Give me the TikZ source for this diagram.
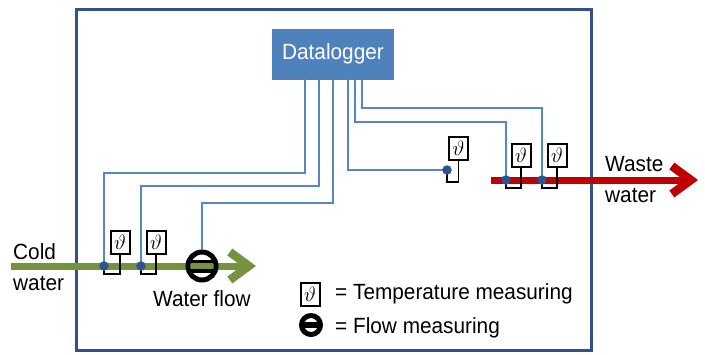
\documentclass[tikz,border=0pt]{standalone}
\usepackage{fontspec}
\setmainfont[FakeStretch=0.945]{Liberation Sans}
\usetikzlibrary{arrows.meta}
\definecolor{frameblue}{RGB}{47,82,143}
\definecolor{boxblue}{RGB}{79,129,189}
\definecolor{wireblue}{RGB}{85,135,200}
\definecolor{dotblue}{RGB}{45,85,140}
\definecolor{flowgreen}{RGB}{118,146,60}
\definecolor{wastered}{RGB}{192,0,0}
\tikzset{
 wire/.style={draw=wireblue,line width=1.5pt},
 pipegreen/.style={draw=flowgreen,line width=7pt,-{Straight Barb[length=19pt,width=28pt,line width=8.5pt]}},
 pipered/.style={draw=wastered,line width=7pt,-{Straight Barb[length=19pt,width=28pt,line width=8.5pt]}},
 sensor/.style={draw=black,fill=white,line width=2pt,minimum width=19pt,minimum height=23pt,inner sep=0pt,font=\fontsize{22}{22}\selectfont},
 sensorlead/.style={draw=black,line width=1.8pt},
 junction/.style={circle,fill=dotblue,inner sep=0pt,minimum size=9.5pt},
 labl/.style={inner sep=0pt,align=left,anchor=west,font=\fontsize{22}{31}\selectfont},
}
\newcommand{\thetasym}{$\vartheta$}
\begin{document}
\begin{tikzpicture}[x=1pt,y=-1pt]
\useasboundingbox (0,0) rectangle (705,354);
\fill[white] (0,0) rectangle (705,354);
\draw[frameblue,line width=3pt] (76,9) rectangle (591,350);
% pipes
\coordinate (gs) at (11,266);
\coordinate (ge) at (256,266);
\coordinate (rs) at (491,180);
\coordinate (re) at (698,180);
\draw[pipegreen] (gs) -- (ge);
\draw[pipered] (rs) -- (re);
% logger
\node[fill=boxblue,text=white,minimum width=122pt,minimum height=51pt,inner sep=0pt,font=\fontsize{22}{22}\selectfont] (log) at (333,54) {Datalogger};
% junction positions
\coordinate (j1) at (104,266);
\coordinate (j2) at (141,266);
\coordinate (j3) at (447,170);
\coordinate (j4) at (506,180);
\coordinate (j5) at (542,180);
% sensors
\node[sensor] (s1) at (120,242) {\thetasym};
\node[sensor] (s2) at (156,242) {\thetasym};
\node[sensor] (s3) at (458.5,148) {\thetasym};
\node[sensor] (s4) at (521,155.5) {\thetasym};
\node[sensor] (s5) at (557,155.5) {\thetasym};
% flow meter
\node[circle,draw=black,line width=5pt,fill=white,minimum size=28pt,inner sep=0pt] (fm) at (202,266) {};
\fill[black] (fm.center) ++(-13,-6.5) rectangle ++(26,3.5);
\fill[black] (fm.center) ++(-13,3) rectangle ++(26,3.5);
\fill[flowgreen] (fm.center) ++(-11,-3) rectangle ++(22,6);
% wires
\draw[wire] (305,79) -- (305,173) -- (104,173) -- (j1);
\draw[wire] (319,79) -- (319,186) -- (141,186) -- (j2);
\draw[wire] (333,79) -- (333,203) -- (202,203) -- (fm.north);
\draw[wire] (348,79) -- (348,170) -- (j3);
\draw[wire] (355,79) -- (355,122) -- (506,122) -- (j4);
\draw[wire] (362,79) -- (362,108) -- (542,108) -- (j5);
% sensor leads
\draw[sensorlead] (104,270) -- (104,274) -- (120,274) -- (s1.south);
\draw[sensorlead] (141,270) -- (141,274) -- (156,274) -- (s2.south);
\draw[sensorlead] (j3) -- (447,182) -- (458.5,182) -- (s3.south);
\draw[sensorlead] (506,184) -- (506,188) -- (521,188) -- (s4.south);
\draw[sensorlead] (542,184) -- (542,188) -- (557,188) -- (s5.south);
% junction dots
\node[junction] (d1) at (j1) {};
\node[junction] (d2) at (j2) {};
\node[junction] (d3) at (j3) {};
\node[junction] (d4) at (j4) {};
\node[junction] (d5) at (j5) {};
% labels
\node[labl] (cold) at (13,267) {Cold\\water};
\node[labl] (waste) at (605,180) {Waste\\water};
\node[labl] (wf) at (153,299) {Water flow};
% legend
\node[sensor] (ls) at (310,294) {\thetasym};
\node[labl] (lt) at (335,293.5) {= Temperature measuring};
\node[circle,draw=black,line width=5pt,fill=white,minimum size=19pt,inner sep=0pt] (lf) at (311,325) {};
\fill[black] (lf.center) ++(-9,-3) rectangle ++(18,6);
\node[labl] (lm) at (335,327.5) {= Flow measuring};
\end{tikzpicture}
\end{document}
